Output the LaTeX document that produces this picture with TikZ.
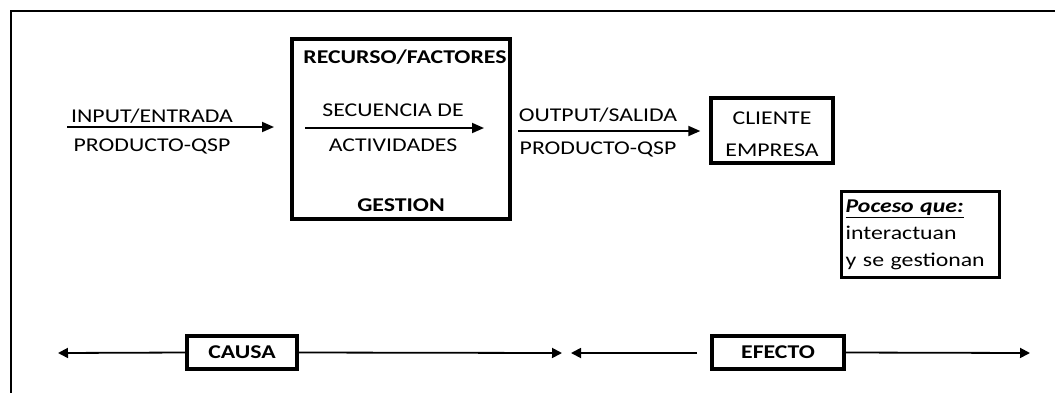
\documentclass[tikz,border=0pt]{standalone}
\usepackage{fontspec}
\setmainfont{Carlito}[FakeStretch=1.22]
\usetikzlibrary{arrows.meta,positioning}
\tikzset{
txt/.style={
	font=\fontsize{19.5}{23}\selectfont,
	inner sep=0pt,
	text height=12.5pt,
	text depth=0pt
},
btxt/.style={txt, font=\fontsize{19.5}{23}\selectfont\bfseries},
frame/.style={draw=black, line width=3.4pt, inner sep=0pt},
flow/.style={-{Triangle[length=12pt,width=10pt]}, line width=1.8pt},
span/.style={-{Triangle[length=10pt,width=10pt]}, line width=1.8pt}
}
\begin{document}
\begin{tikzpicture}[x=1pt,y=-1pt]
\useasboundingbox (0,0) rectangle (1055,392);

% ── Outer frame (only top and left visible) ─────────────────────
\draw[line width=2.8pt] (11,400) -- (11,11) -- (1065,11);

% ── Input ───────────────────────────────────────────────────────
\node[txt] (intop) at (152,116) {INPUT/ENTRADA};
\node[txt] (inbot) at (152,145) {PRODUCTO-QSP};
\coordinate (inA) at (67,127);
\coordinate (inB) at (274,127);
\draw[flow] (inA) -- (inB);

% ── Process box ─────────────────────────────────────────────────
\node[frame, minimum width=218pt, minimum height=180pt] (proc) at (401,129) {};
\node[btxt] (recurso) at (405,57) {RECURSO/FACTORES};
\node[txt] (secA) at (393,110) {SECUENCIA DE};
\node[txt] (secB) at (393,145) {ACTIVIDADES};
\node[btxt] (gestion) at (401,205) {GESTION};
\coordinate (seqA) at (305,128);
\coordinate (seqB) at (484,128);
\draw[flow] (seqA) -- (seqB);

% ── Output ──────────────────────────────────────────────────────
\node[txt] (outtop) at (598,115) {OUTPUT/SALIDA};
\node[txt] (outbot) at (598,148) {PRODUCTO-QSP};
\node[frame, minimum width=122pt, minimum height=65pt] (cliente) at (772,130.5) {};
\node[txt] (cliA) at (772,118) {CLIENTE};
\node[txt] (cliB) at (772,150) {EMPRESA};
\coordinate (outA) at (518,131);
\draw[flow] (outA) -- ([xshift=-9pt]cliente.west |- outA);

% ── Note ────────────────────────────────────────────────────────
\node[frame, anchor=north west, minimum width=158pt, minimum height=86pt,
 text width=150pt, align=left, inner sep=4pt,
 font=\fontsize{19.5}{27}\selectfont] (nota) at (840,190)
 {\underline{\textbf{\textit{Poceso que:}}}\\interactuan\\y se gestionan};

% ── Cause / effect ──────────────────────────────────────────────
\node[frame, minimum width=110pt, minimum height=33pt] (causa) at (242,352.5) {};
\node[btxt] at (causa) {CAUSA};
\node[frame, minimum width=132pt, minimum height=33pt] (efecto) at (778,352.5) {};
\node[btxt] at (efecto) {EFECTO};
\coordinate (cauL) at (58,353);
\coordinate (cauR) at (562,353);
\coordinate (efeL) at (571,353);
\coordinate (efeS) at (697,353);
\coordinate (efeR) at (1030,353);
\draw[span] (causa.west) -- (cauL);
\draw[span] (causa.east) -- (cauR);
\draw[span] (efeS) -- (efeL);
\draw[span] (efecto.east) -- (efeR);
\end{tikzpicture}
\end{document}
